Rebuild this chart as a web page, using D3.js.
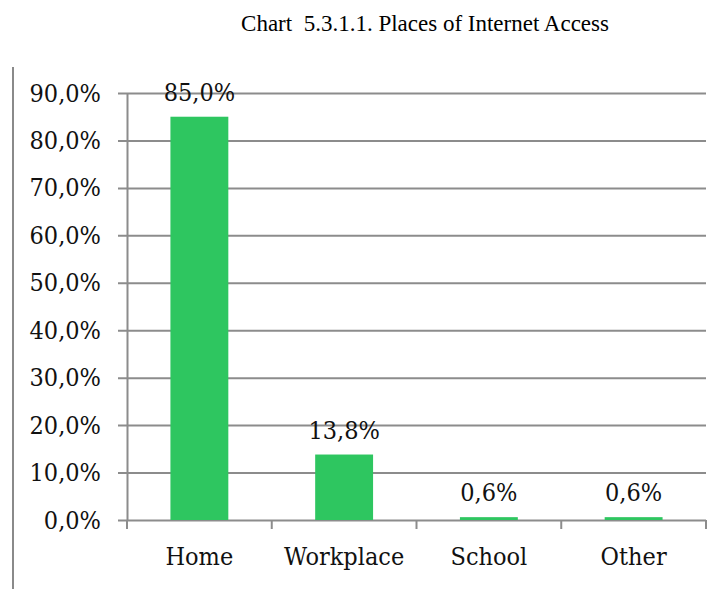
<!DOCTYPE html>
<html>
<head>
<meta charset="utf-8">
<script src="https://cdn.jsdelivr.net/npm/d3@7"></script>
<style>
  html, body { margin: 0; padding: 0; background: #fff; }
  svg { display: block; }
</style>
</head>
<body>
<svg id="chart" width="727" height="589"></svg>
<script>
// Places of Internet access, share of users (%)
const categories = ["Home", "Workplace", "School", "Other"];
const values = [85.0, 13.8, 0.6, 0.6];
const yTicks = [0, 10, 20, 30, 40, 50, 60, 70, 80, 90];

const svg = d3.select("#chart");
const W = 727, H = 589;
const margin = { left: 127, right: 21, top: 93, bottom: 69 };
const plotRight = W - margin.right;
const plotBottom = H - margin.bottom;

const fmt = v => v.toFixed(1).replace(".", ",") + "%";
const labelFont = "'DejaVu Serif Condensed', 'DejaVu Serif', serif";
const labelSize = 25;
const gridColor = "#8c8c8c";

// Title
svg.append("text")
  .attr("x", 425).attr("y", 31)
  .attr("text-anchor", "middle")
  .attr("font-family", "'Liberation Serif', 'Times New Roman', serif")
  .attr("font-size", 23)
  .attr("fill", "#000")
  .attr("xml:space", "preserve")
  .text("Chart  5.3.1.1. Places of Internet Access");

// Left frame line
svg.append("line")
  .attr("x1", 13).attr("x2", 13)
  .attr("y1", 67).attr("y2", H)
  .attr("stroke", "#8a8a8a").attr("stroke-width", 2);

const x = d3.scaleBand()
  .domain(categories)
  .range([margin.left, plotRight])
  .paddingInner(0.6)
  .paddingOuter(0.3);

const y = d3.scaleLinear()
  .domain([0, 90])
  .range([plotBottom, margin.top]);

// Horizontal gridlines with short outer ticks
const yAxis = d3.axisLeft(y)
  .tickValues(yTicks)
  .tickFormat(fmt)
  .tickSize(-(plotRight - margin.left))
  .tickSizeOuter(0)
  .tickPadding(18);

const gy = svg.append("g")
  .attr("transform", `translate(${margin.left},0)`)
  .call(yAxis);
gy.select(".domain")
  .attr("stroke", gridColor).attr("stroke-width", 2);
gy.selectAll(".tick line")
  .attr("stroke", gridColor).attr("stroke-width", 2)
  .attr("x1", -9);
gy.selectAll(".tick text")
  .attr("font-family", labelFont)
  .attr("font-size", labelSize)
  .attr("fill", "#111")
  .attr("x", -26);

// Category axis with boundary ticks between bands
const xEdges = categories.map(c => x(c) - x.step() * x.paddingInner() / 2)
  .concat([plotRight]);
xEdges[0] = margin.left;
const gx = svg.append("g");
gx.selectAll("line.xt")
  .data(xEdges)
  .join("line")
  .attr("class", "xt")
  .attr("x1", d => d).attr("x2", d => d)
  .attr("y1", plotBottom).attr("y2", plotBottom + 9)
  .attr("stroke", gridColor).attr("stroke-width", 2);
gx.selectAll("text.cat")
  .data(categories)
  .join("text")
  .attr("class", "cat")
  .attr("x", d => x(d) + x.bandwidth() / 2)
  .attr("y", 565)
  .attr("text-anchor", "middle")
  .attr("font-family", labelFont)
  .attr("font-size", labelSize)
  .attr("fill", "#111")
  .text(d => d);

// Bars
const data = categories.map((c, i) => ({ c, v: values[i] }));
svg.append("g").selectAll("rect")
  .data(data)
  .join("rect")
  .attr("x", d => x(d.c))
  .attr("width", x.bandwidth())
  .attr("y", d => y(d.v))
  .attr("height", d => y(0) - y(d.v))
  .attr("fill", "#2ec660");

// Value labels
svg.append("g").selectAll("text")
  .data(data)
  .join("text")
  .attr("x", d => x(d.c) + x.bandwidth() / 2)
  .attr("y", d => y(d.v) - 16)
  .attr("text-anchor", "middle")
  .attr("font-family", labelFont)
  .attr("font-size", labelSize)
  .attr("fill", "#111")
  .text(d => fmt(d.v));
</script>
</body>
</html>
